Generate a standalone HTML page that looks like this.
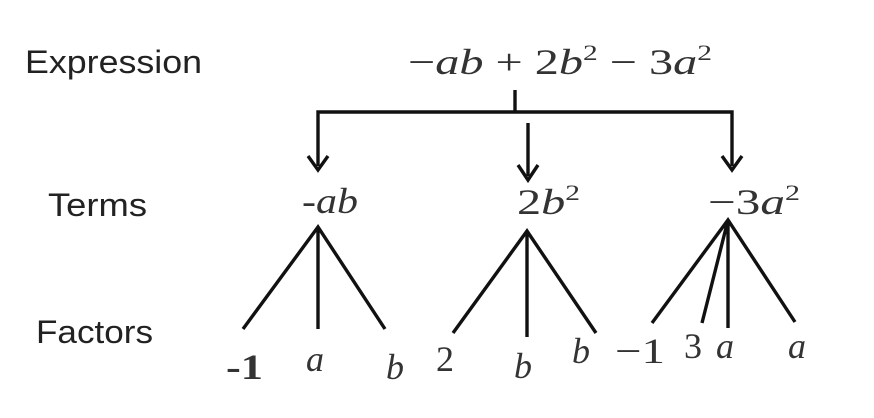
<!DOCTYPE html>
<html><head><meta charset="utf-8"><style>
html,body{margin:0;padding:0;background:#fff;}
svg{display:block;}
.l{font-family:"Liberation Sans",sans-serif;font-size:32px;fill:#222;}
.m{font-family:"Liberation Serif",serif;font-size:36px;fill:#333;}
.i{font-style:italic;}
</style></head><body>
<svg width="874" height="418" viewBox="0 0 874 418" xmlns="http://www.w3.org/2000/svg">
<g stroke="#111" stroke-width="3.4" fill="none" stroke-linejoin="miter">
<path d="M515 90 V112"/>
<path d="M318 166 V112 H732 V166"/>
<path d="M528 123 V176"/>
<path d="M308 156 L318 170 L328 156"/>
<path d="M722 156 L732 170 L742 156"/>
<path d="M518 165 L528 180 L538 165"/>
<path d="M243 329 L318 227 L385 329 M318 227 V329"/>
<path d="M453 333 L527 231 L596 333 M527 231 V337"/>
<path d="M652 323 L728 220 L795 322 M728 220 L702 323 M728 220 V328"/>
</g>
<text class="l" x="25" y="73" textLength="177" lengthAdjust="spacingAndGlyphs">Expression</text>
<text class="l" x="48" y="216" textLength="99" lengthAdjust="spacingAndGlyphs">Terms</text>
<text class="l" x="36" y="343" textLength="117" lengthAdjust="spacingAndGlyphs">Factors</text>
<text class="m" x="408" y="74" textLength="304" lengthAdjust="spacingAndGlyphs">−<tspan class="i">ab</tspan> + 2<tspan class="i">b</tspan><tspan font-size="22" dy="-14">2</tspan><tspan dy="14"> − 3</tspan><tspan class="i">a</tspan><tspan font-size="22" dy="-14">2</tspan></text>
<text class="m i" x="302" y="213" textLength="56" lengthAdjust="spacingAndGlyphs">-ab</text>
<text class="m" x="517" y="214" textLength="63" lengthAdjust="spacingAndGlyphs">2<tspan class="i">b</tspan><tspan font-size="22" dy="-14">2</tspan></text>
<text class="m" x="708" y="214" textLength="92" lengthAdjust="spacingAndGlyphs">−3<tspan class="i">a</tspan><tspan font-size="22" dy="-14">2</tspan></text>
<text class="m" x="226" y="379" font-weight="bold" textLength="37" lengthAdjust="spacingAndGlyphs">-1</text>
<text class="m i" x="306" y="371">a</text>
<text class="m i" x="386" y="379">b</text>
<text class="m" x="436" y="371">2</text>
<text class="m i" x="514" y="378">b</text>
<text class="m i" x="572" y="363">b</text>
<text class="m" x="615" y="363" textLength="50" lengthAdjust="spacingAndGlyphs">−1</text>
<text class="m" x="684" y="358">3</text>
<text class="m i" x="716" y="358">a</text>
<text class="m i" x="788" y="358">a</text>
</svg>
</body></html>
